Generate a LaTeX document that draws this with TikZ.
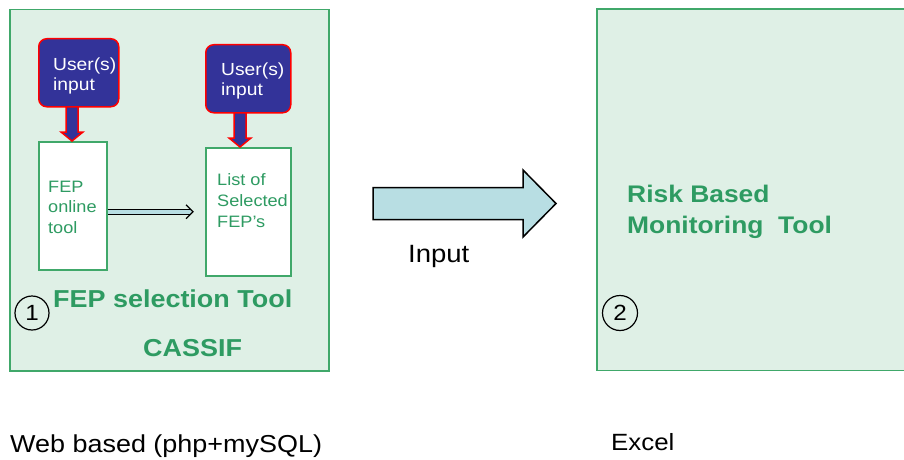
\documentclass[tikz,border=0pt]{standalone}
\usepackage{fontspec}
\setmainfont{Liberation Sans}[FakeStretch=1.1]
\usetikzlibrary{arrows.meta,calc}
\definecolor{panelfill}{RGB}{223,240,230}
\definecolor{panelline}{RGB}{64,168,106}
\definecolor{tgreen}{RGB}{46,155,98}
\definecolor{ublue}{RGB}{51,51,153}
\definecolor{acyan}{RGB}{184,222,227}
\newcommand{\fs}[2]{\fontsize{#1}{#2}\selectfont}
\begin{document}
\begin{tikzpicture}[x=1pt,y=-1pt,
  panel/.style={draw=panelline, fill=panelfill, line width=1.5pt, rectangle, inner sep=0, anchor=north west},
  userbox/.style={draw=red, fill=ublue, line width=1.5pt, rounded corners=8pt, inner sep=0, minimum height=68pt, anchor=north west},
  toolbox/.style={draw=panelline, fill=white, line width=1.5pt, inner sep=0, minimum height=128pt, anchor=north west},
  usertxt/.style={text=white, font=\fs{17.5}{20}, align=left, inner sep=0, anchor=base west},
  gtxt/.style={text=tgreen, font=\fs{16.5}{20.5}, align=left, inner sep=0, anchor=base west},
  btxt/.style={text=tgreen, font=\fs{24.5}{31}\bfseries, align=left, inner sep=0, anchor=base west},
  ktxt/.style={text=black, font=\fs{24.5}{30}, inner sep=0, anchor=base west},
  uarrow/.style={draw=red, fill=ublue, line width=1.5pt, line join=miter},
  numcirc/.style={circle, draw=black, line width=1.2pt, inner sep=0, font=\fs{22}{24}}
]
\useasboundingbox (0,0) rectangle (904,460);
\fill[white] (0,0) rectangle (904,460);

% panels
\node[panel, minimum width=319pt, minimum height=361pt] (p1) at (9,9) {};
\node[fill=panelfill, inner sep=0, anchor=north west, minimum width=310pt, minimum height=361pt] (p2) at (597,9) {};
\draw[panelline, line width=1.5pt] (p2.north east) -- (p2.north west) -- (p2.south west) -- (p2.south east);

% tool boxes
\node[toolbox, minimum width=68pt] (fep) at (38,141) {};
\node[toolbox, minimum width=85pt] (list) at (205,147) {};

% user arrows
\coordinate (a1top) at (72,100);
\coordinate (a2top) at (240,106);
\draw[uarrow] ($(a1top)+(-6,0)$) -- ($(fep.north -| a1top)+(-6,-9)$) -- ($(fep.north -| a1top)+(-11,-9)$)
  -- (fep.north -| a1top) -- ($(fep.north -| a1top)+(11,-9)$) -- ($(fep.north -| a1top)+(6,-9)$) -- ($(a1top)+(6,0)$);
\draw[uarrow] ($(a2top)+(-6,0)$) -- ($(list.north -| a2top)+(-6,-9)$) -- ($(list.north -| a2top)+(-11,-9)$)
  -- (list.north -| a2top) -- ($(list.north -| a2top)+(11,-9)$) -- ($(list.north -| a2top)+(6,-9)$) -- ($(a2top)+(6,0)$);

% user boxes
\node[userbox, minimum width=80pt] (u1) at (38,38) {};
\node[userbox, minimum width=85pt] (u2) at (205,44) {};
\node[usertxt] (u1t) at (53,90) {User(s)\\input};
\node[usertxt] (u2t) at (221,95) {User(s)\\input};

% tool box texts (anchor = baseline of last line)
\node[gtxt] (fept) at (48,233) {FEP\\online\\tool};
\node[gtxt, font=\fs{16.5}{21}] (listt) at (217,227) {List of\\Selected\\FEP’s};

% double arrow with open chevron head
\coordinate (dtip) at ([xshift=-12pt]list.west);
\draw[black, line width=1pt, double=acyan, double distance=3.5pt]
  (fep.east |- list.west) -- ([xshift=-2pt]dtip);
\draw[black, line width=1.3pt, line join=miter] ($(dtip)+(-7,-7)$) -- (dtip) -- ($(dtip)+(-7,7)$);

% panel 1 labels
\node[btxt] (selt) at (53,307) {FEP selection Tool};
\node[btxt] (cassif) at (143,356) {CASSIF};
\node[numcirc, minimum size=34pt] (c1) at (32,313) {1};

% big arrow
\coordinate (bigA) at (373,203.5);
\draw[black, line width=1.5pt, fill=acyan, line join=miter]
  ($(bigA)+(0,-16)$) -- ($(bigA)+(150,-16)$) -- ($(bigA)+(150,-33.5)$) -- ($(bigA)+(183,0)$)
  -- ($(bigA)+(150,33.5)$) -- ($(bigA)+(150,16)$) -- ($(bigA)+(0,16)$) -- cycle;
\node[ktxt, font=\fs{25}{30}] (inp) at (408,262) {Input};

% panel 2
\node[btxt, font=\fs{24}{31}\bfseries] (rbmt) at (627,233) {Risk Based\\Monitoring\ \ Tool};
\node[numcirc, minimum size=35pt] (c2) at (620,313) {2};

% bottom labels
\node[ktxt] (web) at (10,452) {Web based (php+mySQL)};
\node[ktxt, font=\fs{23.5}{30}] (xl) at (611,450) {Excel};
\end{tikzpicture}
\end{document}
